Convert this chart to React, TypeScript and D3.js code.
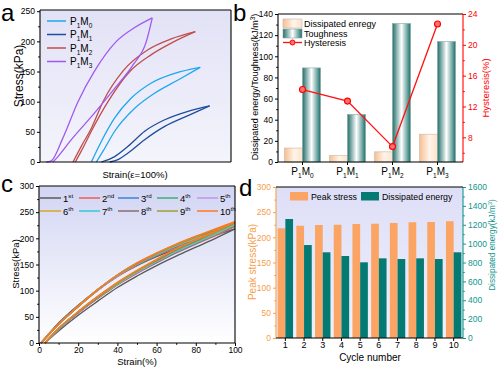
import React, { useEffect, useRef } from "react";
import * as d3 from "d3";

const FONT = "'Liberation Sans', Arial, Helvetica, sans-serif";

// ---- panel a: loading / unloading loops (strain offset, stress kPa)
const loopIds = ["0", "1", "2", "3"];
const loopColors = ["#1ea7f2", "#1d4d9b", "#bf4f4c", "#a159f0"];
const m0Load = [[26.9, 0], [32.1, 34], [39.1, 73], [47.8, 106], [58.3, 131], [70.5, 147], [83.9, 157]];
const m0Unload = [[83.9, 157], [72.3, 136], [60, 114], [49.6, 89], [39.1, 51], [33, 18], [29.5, 0]];
const m1Load = [[32.1, 0], [39.1, 9], [46.1, 26], [54.8, 51], [65.3, 70], [77.5, 84], [88.8, 93]];
const m1Unload = [[88.8, 93], [77.5, 77], [65.3, 59], [54.8, 37], [46.1, 15], [40.8, 4], [36.5, 0]];
const m2Load = [[17.3, 0], [21.6, 26], [26.9, 56], [33, 100], [43.5, 151], [56.5, 186], [68.7, 204], [81.3, 216]];
const m2Unload = [[81.3, 216], [68.7, 197], [58.3, 178], [47, 150], [35.6, 100], [27.7, 56], [21.6, 18], [18.5, 0]];
const m3Load = [[3.3, 0], [5.9, 2], [12, 40], [19.9, 100], [28.6, 151], [40, 200], [49.6, 223], [58.8, 239]];
const m3Unload = [[58.8, 239], [55.7, 200], [48.7, 161], [39.1, 122], [27.7, 78], [16.4, 37], [9.4, 9], [6.8, 0]];
const loops = [[m0Load, m0Unload], [m1Load, m1Unload], [m2Load, m2Unload], [m3Load, m3Unload]];
const aTicks = [0, 50, 100, 150, 200, 250];

// ---- panel b
const bCats = ["0", "1", "2", "3"];
const dissipated = [13.2, 6.2, 9.6, 26.3];
const toughness = [89, 45, 131, 114];
const hysteresis = [14.2, 12.7, 6.8, 22.7];
const bLeftTicks = [0, 20, 40, 60, 80, 100, 120, 140];
const bRightTicks = [8, 12, 16, 20, 24];

// ---- panel c: ten cycles
const cycleNums = ["1", "2", "3", "4", "5", "6", "7", "8", "9", "10"];
const cycleSup = ["st", "nd", "rd", "th", "th", "th", "th", "th", "th", "th"];
const cycleColors = ["#5a5a5a", "#f05a5a", "#3d7fe0", "#3fae78", "#c595ea", "#d6a624", "#34c9d6", "#8e6b6b", "#a0a032", "#ff7a1f"];
const strainLoad = [1, 10, 20, 30, 40, 50, 60, 70, 80, 90, 100];
const strainUnload = [100, 90, 80, 70, 60, 50, 40, 30, 20, 10, 3];
const loadStress = [
  [0, 38, 72, 102, 128, 148, 165, 180, 194, 206, 218],
  [0, 36, 70, 101, 127, 149, 167, 183, 197, 210, 223],
  [0, 36, 70, 101, 128, 150, 168, 184, 198, 211, 224.5],
  [0, 36, 70, 101, 128, 150, 168, 185, 199, 212, 225],
  [0, 36, 70, 101, 128, 151, 169, 186, 200, 213, 226.5],
  [0, 36, 70, 102, 129, 151, 170, 186, 201, 214, 227],
  [0, 36, 70, 102, 129, 152, 170, 187, 202, 215, 228.5],
  [0, 36, 70, 102, 130, 152, 171, 188, 203, 216, 230],
  [0, 36, 70, 102, 130, 153, 171, 188, 203, 217, 230.5],
  [0, 36, 70, 102, 130, 153, 172, 189, 204, 218, 232],
];
const unloadStress = [
  [218, 200, 183, 166, 148, 128, 106, 80, 53, 23, 0],
  [223, 205, 189, 172, 153, 133, 111, 85, 57, 26, 0],
  [224.5, 207, 190, 173, 154, 134, 112, 86, 58, 26, 0],
  [225, 207, 191, 174, 155, 135, 112, 86, 58, 27, 0],
  [226.5, 208, 192, 175, 156, 135, 113, 87, 58, 27, 0],
  [227, 209, 192, 175, 156, 136, 113, 87, 59, 27, 0],
  [228.5, 210, 193, 176, 157, 137, 114, 88, 59, 27, 0],
  [230, 212, 195, 178, 158, 138, 115, 88, 59, 28, 0],
  [230.5, 212, 196, 179, 159, 138, 115, 89, 60, 28, 0],
  [232, 214, 197, 180, 160, 139, 116, 89, 60, 28, 0],
];
const cXTicks = [0, 20, 40, 60, 80, 100];
const cYTicks = [0, 50, 100, 150, 200, 250, 300];

// ---- panel d
const cycles = ["1", "2", "3", "4", "5", "6", "7", "8", "9", "10"];
const peakStress = [218, 223, 224.5, 225, 226.5, 227, 228.5, 230, 230.5, 232];
const dissEnergy = [1261, 985, 908, 869, 802, 844, 837, 844, 837, 908];
const dLeftTicks = [0, 50, 100, 150, 200, 250, 300];
const dRightTicks = [0, 200, 400, 600, 800, 1000, 1200, 1400, 1600];

const ORANGE = "#fba464";
const TEAL = "#047a73";

export default function App() {
  const svgRef = useRef(null);

  useEffect(() => {
    const svg = d3.select(svgRef.current);
    svg.selectAll("*").remove();
    const defs = svg.append("defs");

    const vgrad = (id, top, bottom) => {
      const g = defs.append("linearGradient").attr("id", id).attr("x1", 0).attr("y1", 0).attr("x2", 0).attr("y2", 1);
      g.append("stop").attr("offset", 0).attr("stop-color", top);
      g.append("stop").attr("offset", 1).attr("stop-color", bottom);
    };
    const hgrad = (id, stops) => {
      const g = defs.append("linearGradient").attr("id", id).attr("x1", 0).attr("y1", 0).attr("x2", 1).attr("y2", 0);
      stops.forEach(([o, c]) => g.append("stop").attr("offset", o).attr("stop-color", c));
    };
    vgrad("bgA", "#e2e2f6", "#f4f4fc");
    vgrad("bgC", "#d2d5f3", "#ffffff");
    vgrad("bgD", "#dedff7", "#eef0fc");
    hgrad("gDiss", [[0, "#f7bf90"], [0.55, "#fff4ea"], [1, "#fde3cc"]]);
    hgrad("gTough", [[0, "#226f6a"], [0.5, "#ffffff"], [0.9, "#4a8f8a"], [1, "#1f6b66"]]);

    const rich = (parent, x, y, parts, size, anchor, fill) => {
      const t = parent.append("text").attr("x", x).attr("y", y).attr("font-size", size)
        .attr("text-anchor", anchor).attr("fill", fill).attr("font-family", FONT);
      let cur = 0;
      parts.forEach(([s, kind]) => {
        const shift = kind === "sub" ? size * 0.3 : kind === "sup" ? -size * 0.4 : 0;
        t.append("tspan").attr("dy", shift - cur).attr("font-size", kind ? size * 0.65 : size).text(s);
        cur = shift;
      });
      return t;
    };

    const frame = (x0, y0, x1, y1, cl = "#000", cr = "#000", ct = "#000", cb = "#000") => {
      const g = svg.append("g").attr("stroke-width", 1.1);
      g.append("line").attr("x1", x0).attr("x2", x0).attr("y1", y0).attr("y2", y1).attr("stroke", cl);
      g.append("line").attr("x1", x1).attr("x2", x1).attr("y1", y0).attr("y2", y1).attr("stroke", cr);
      g.append("line").attr("x1", x0).attr("x2", x1).attr("y1", y0).attr("y2", y0).attr("stroke", ct);
      g.append("line").attr("x1", x0).attr("x2", x1).attr("y1", y1).attr("y2", y1).attr("stroke", cb);
    };

    const ticks = (orient, scale, major, minor, pos, color, labels = true, size = 8.5, pad = 2) => {
      const gen = orient === "left" ? d3.axisLeft : orient === "right" ? d3.axisRight : d3.axisBottom;
      const tr = orient === "bottom" ? `translate(0,${pos})` : `translate(${pos},0)`;
      const g = svg.append("g").attr("transform", tr).attr("color", color);
      g.call(gen(scale).tickValues(major).tickSize(3).tickPadding(pad)
        .tickFormat(labels ? (d) => String(d) : () => ""));
      g.select(".domain").remove();
      g.selectAll("text").attr("font-family", FONT).attr("font-size", size);
      if (minor.length) {
        const g2 = svg.append("g").attr("transform", tr).attr("color", color);
        g2.call(gen(scale).tickValues(minor).tickSize(1.8).tickFormat(() => ""));
        g2.select(".domain").remove();
      }
      return g;
    };

    const label = (x, y, txt, size, fill = "#000", rot = 0, anchor = "middle") => {
      const t = svg.append("text").attr("x", x).attr("y", y).attr("font-size", size).attr("fill", fill)
        .attr("font-family", FONT).attr("text-anchor", anchor).text(txt);
      if (rot) t.attr("transform", `rotate(${rot},${x},${y})`);
      return t;
    };

    // ================= panel a
    const xa = d3.scaleLinear().domain([0, 100]).range([40, 231]);
    const ya = d3.scaleLinear().domain([0, 252]).range([162, 10]);
    svg.append("rect").attr("x", 40).attr("y", 10).attr("width", 191).attr("height", 152).attr("fill", "url(#bgA)");
    const lineA = d3.line().x((d) => xa(d[0])).y((d) => ya(d[1])).curve(d3.curveMonotoneX);
    loops.forEach((pair, i) => {
      pair.forEach((pts) => {
        const sorted = [...pts].sort((p, q) => p[0] - q[0]);
        svg.append("path").attr("d", lineA(sorted)).attr("fill", "none")
          .attr("stroke", loopColors[i]).attr("stroke-width", 1.3);
      });
    });
    frame(40, 10, 231, 162);
    ticks("left", ya, aTicks, [25, 75, 125, 175, 225], 40, "#000");
    loopIds.forEach((id, i) => {
      const y = 21 + i * 13.5;
      svg.append("line").attr("x1", 47).attr("x2", 66).attr("y1", y).attr("y2", y)
        .attr("stroke", loopColors[i]).attr("stroke-width", 1.5);
      rich(svg, 70, y + 3.5, [["P"], ["1", "sub"], ["M"], [id, "sub"]], 10, "start", "#000");
    });
    label(135, 177.5, "Strain(ε=100%)", 9.5);
    label(23, 76, "Stress(kPa)", 12, "#000", -90);
    label(1, 21, "a", 24, "#000", 0, "start");

    // ================= panel b
    const xb = d3.scaleBand().domain(bCats).range([280, 460]);
    const yb = d3.scaleLinear().domain([0, 140]).range([162, 14]);
    const yr = d3.scaleLinear().domain([4.8, 24]).range([162, 14]);
    const cb = (c) => xb(c) + xb.bandwidth() / 2;
    bCats.forEach((c, i) => {
      svg.append("rect").attr("x", cb(c) - 18).attr("y", yb(dissipated[i])).attr("width", 18)
        .attr("height", yb(0) - yb(dissipated[i])).attr("fill", "url(#gDiss)").attr("stroke", "#c9b7a8").attr("stroke-width", 0.6);
      svg.append("rect").attr("x", cb(c)).attr("y", yb(toughness[i])).attr("width", 18)
        .attr("height", yb(0) - yb(toughness[i])).attr("fill", "url(#gTough)").attr("stroke", "#8aa9a6").attr("stroke-width", 0.6);
    });
    const lineB = d3.line().x((d, i) => cb(bCats[i])).y((d) => yr(d));
    svg.append("path").attr("d", lineB(hysteresis)).attr("fill", "none").attr("stroke", "#ff1010").attr("stroke-width", 1.3);
    hysteresis.forEach((v, i) => {
      svg.append("circle").attr("cx", cb(bCats[i])).attr("cy", yr(v)).attr("r", 3)
        .attr("fill", "#ff7070").attr("stroke", "#ff0000").attr("stroke-width", 1.1);
    });
    frame(278, 14, 463, 162, "#000", "#ff0000");
    ticks("left", yb, bLeftTicks, [10, 30, 50, 70, 90, 110, 130], 278, "#000");
    ticks("right", yr, bRightTicks, [6, 10, 14, 18, 22], 463, "#ff0000");
    ticks("bottom", xb, bCats, [], 162, "#000", false);
    bCats.forEach((c) => {
      rich(svg, cb(c), 175, [["P"], ["1", "sub"], ["M"], [c, "sub"]], 10, "middle", "#000");
    });
    // legend b
    svg.append("rect").attr("x", 283).attr("y", 19).attr("width", 19).attr("height", 9).attr("fill", "url(#gDiss)").attr("stroke", "#c9b7a8").attr("stroke-width", 0.6);
    svg.append("rect").attr("x", 283).attr("y", 29).attr("width", 19).attr("height", 9).attr("fill", "url(#gTough)").attr("stroke", "#8aa9a6").attr("stroke-width", 0.6);
    svg.append("line").attr("x1", 283).attr("x2", 302).attr("y1", 42.5).attr("y2", 42.5).attr("stroke", "#ff1010").attr("stroke-width", 1.3);
    svg.append("circle").attr("cx", 292.5).attr("cy", 42.5).attr("r", 2.5).attr("fill", "#ff7070").attr("stroke", "#ff0000");
    label(304, 26.5, "Dissipated enregy", 9, "#000", 0, "start");
    label(304, 36.5, "Toughness", 9, "#000", 0, "start");
    label(304, 46, "Hysteresis", 9, "#000", 0, "start");
    const bl = svg.append("text").attr("transform", "translate(258,87) rotate(-90)").attr("text-anchor", "middle")
      .attr("font-family", FONT).attr("font-size", 9);
    bl.append("tspan").text("Dissipated energy/Toughness(kJ/m");
    bl.append("tspan").attr("dy", -3.5).attr("font-size", 6.5).text("3");
    bl.append("tspan").attr("dy", 3.5).text(")");
    label(488.5, 88, "Hysteresis(%)", 9.5, "#ff0000", -90);
    label(233, 21, "b", 24, "#000", 0, "start");

    // ================= panel c
    const xc = d3.scaleLinear().domain([0, 100]).range([39, 235]);
    const yc = d3.scaleLinear().domain([0, 300]).range([343, 186]);
    svg.append("rect").attr("x", 39).attr("y", 186).attr("width", 196).attr("height", 157).attr("fill", "url(#bgC)");
    const lineC = d3.line().x((d) => xc(d[0])).y((d) => yc(d[1])).curve(d3.curveMonotoneX);
    cycleNums.forEach((n, i) => {
      const ld = strainLoad.map((s, j) => [s, loadStress[i][j]]);
      const ud = strainUnload.map((s, j) => [s, unloadStress[i][j]]).sort((p, q) => p[0] - q[0]);
      [ld, ud].forEach((pts) => svg.append("path").attr("d", lineC(pts)).attr("fill", "none")
        .attr("stroke", cycleColors[i]).attr("stroke-width", 1.4));
    });
    frame(39, 186, 235, 343);
    ticks("left", yc, cYTicks, [25, 75, 125, 175, 225, 275], 39, "#000");
    ticks("bottom", xc, cXTicks, [10, 30, 50, 70, 90], 343, "#000", true, 8.5, 1);
    const colX = [40, 79, 118, 157, 197];
    cycleNums.forEach((n, i) => {
      const x = colX[i % 5];
      const y = i < 5 ? 198 : 211;
      svg.append("line").attr("x1", x).attr("x2", x + 21).attr("y1", y).attr("y2", y)
        .attr("stroke", cycleColors[i]).attr("stroke-width", 1.5);
      rich(svg, x + 23, y + 3.5, [[n], [cycleSup[i], "sup"]], 9.5, "start", "#000");
    });
    label(137, 364.5, "Strain(%)", 9.5);
    label(18.5, 264, "Stress(kPa)", 9.5, "#000", -90);
    label(1, 192, "c", 24, "#000", 0, "start");

    // ================= panel d
    const xd = d3.scaleBand().domain(cycles).range([276, 463]);
    const yd = d3.scaleLinear().domain([0, 300]).range([338, 187]);
    const yd2 = d3.scaleLinear().domain([0, 1600]).range([338, 187]);
    const cd = (c) => xd(c) + xd.bandwidth() / 2;
    svg.append("rect").attr("x", 276).attr("y", 187).attr("width", 187).attr("height", 151).attr("fill", "url(#bgD)");
    cycles.forEach((c, i) => {
      svg.append("rect").attr("x", cd(c) - 7.7).attr("y", yd(peakStress[i])).attr("width", 7.7)
        .attr("height", yd(0) - yd(peakStress[i])).attr("fill", ORANGE);
      svg.append("rect").attr("x", cd(c)).attr("y", yd2(dissEnergy[i])).attr("width", 7.7)
        .attr("height", yd2(0) - yd2(dissEnergy[i])).attr("fill", TEAL);
    });
    frame(276, 187, 463, 338, "#f7a04a", "#12968c");
    ticks("left", yd, dLeftTicks, [25, 75, 125, 175, 225, 275], 276, "#f7a04a");
    ticks("right", yd2, dRightTicks, [100, 300, 500, 700, 900, 1100, 1300, 1500], 463, "#12968c");
    ticks("bottom", xd, cycles, [], 338, "#000", true, 9, 1);
    svg.append("rect").attr("x", 290).attr("y", 192).attr("width", 18).attr("height", 8.5).attr("fill", ORANGE);
    label(311, 200, "Peak stress", 8.8, "#000", 0, "start");
    svg.append("rect").attr("x", 361).attr("y", 192).attr("width", 18).attr("height", 8.5).attr("fill", TEAL);
    label(382, 200, "Dissipated energy", 8.8, "#000", 0, "start");
    label(370, 361, "Cycle number", 10);
    label(256, 262, "Peak stress(kPa)", 10, "#f7a04a", -90);
    const dl = svg.append("text").attr("transform", "translate(495,245) rotate(-90)").attr("text-anchor", "middle")
      .attr("font-family", FONT).attr("font-size", 8.2).attr("fill", "#12968c");
    dl.append("tspan").text("Dissipated energy(kJ/m");
    dl.append("tspan").attr("dy", -3).attr("font-size", 6).text("3");
    dl.append("tspan").attr("dy", 3).text(")");
    label(239, 196, "d", 24, "#000", 0, "start");
  }, []);

  return (
    <svg ref={svgRef} width={500} height={367}
      style={{ position: "absolute", left: 0, top: 0, background: "#fff" }} />
  );
}
